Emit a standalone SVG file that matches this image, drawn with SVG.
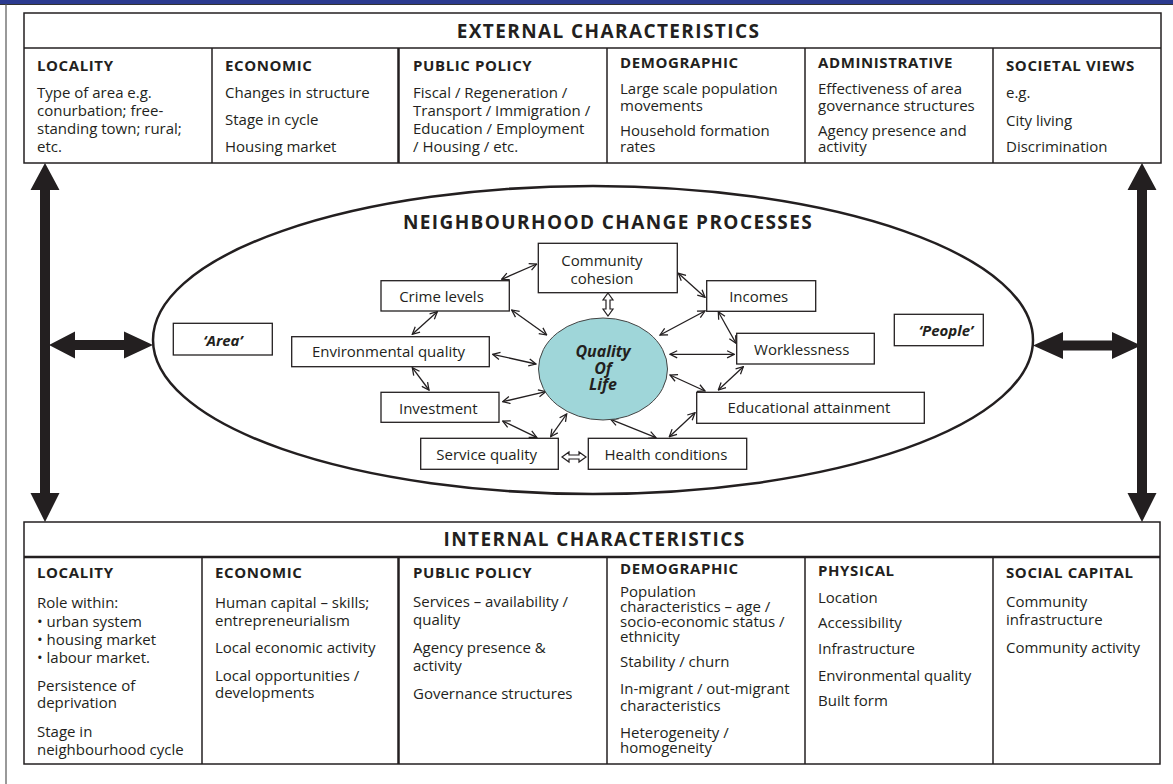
<svg xmlns="http://www.w3.org/2000/svg" width="1173" height="784" viewBox="0 0 1173 784">
<defs>
<style>
text{fill:#231f20;font-family:"Open Sans","Noto Sans","Liberation Sans",sans-serif}
.t{font-size:19px;font-weight:bold;letter-spacing:1.4px}
.h{font-size:15px;font-weight:bold;letter-spacing:0.6px}
.b{font-size:15px}
.nt{font-size:15px;text-anchor:middle}
.bi{font-size:15px;font-weight:bold;font-style:italic;text-anchor:middle}
.q{font-size:16px;font-weight:bold;font-style:italic;text-anchor:middle}
.cell{fill:none;stroke:#231f20;stroke-width:1.5}
.nb{fill:#fff;stroke:#231f20;stroke-width:1.3}
.c{stroke:#231f20;stroke-width:1.3;fill:none;marker-start:url(#ah);marker-end:url(#ah)}
.big{fill:#231f20}
</style>
<marker id="ah" viewBox="0 0 10 10" refX="9" refY="5" markerWidth="9" markerHeight="9" markerUnits="userSpaceOnUse" orient="auto-start-reverse">
<path d="M1,1 L9,5 L1,9" fill="none" stroke="#231f20" stroke-width="1.4"/>
</marker>
</defs>
<rect x="0" y="0" width="1173" height="784" fill="#fff"/>
<rect x="0" y="0" width="1173" height="4.5" fill="#2b3a8f"/>
<line x1="0" y1="4.5" x2="1173" y2="4.5" stroke="#333" stroke-width="1"/>
<line x1="6" y1="4" x2="6" y2="784" stroke="#555" stroke-width="1.2"/>

<g id="external">
<rect class="cell" x="24" y="13" width="1137" height="150"/>
<line class="cell" x1="24" y1="48" x2="1161" y2="48"/>
<line class="cell" x1="212" y1="48" x2="212" y2="163"/>
<line class="cell" x1="398.5" y1="48" x2="398.5" y2="163" style="stroke-width:2.5"/>
<line class="cell" x1="607" y1="48" x2="607" y2="163"/>
<line class="cell" x1="805" y1="48" x2="805" y2="163"/>
<line class="cell" x1="993" y1="48" x2="993" y2="163"/>
<text class="t" x="608.5" y="38" text-anchor="middle">EXTERNAL CHARACTERISTICS</text>
<g id="ext-locality"><text class="h" x="37" y="71">LOCALITY</text>
<text class="b" x="37"><tspan y="98">Type of area e.g.</tspan><tspan x="37" y="116">conurbation; free-</tspan><tspan x="37" y="134">standing town; rural;</tspan><tspan x="37" y="152">etc.</tspan></text></g>
<g id="ext-economic"><text class="h" x="225" y="71">ECONOMIC</text>
<text class="b" x="225"><tspan y="98">Changes in structure</tspan><tspan x="225" y="125">Stage in cycle</tspan><tspan x="225" y="152">Housing market</tspan></text></g>
<g id="ext-policy"><text class="h" x="413" y="71">PUBLIC POLICY</text>
<text class="b" x="413"><tspan y="98">Fiscal / Regeneration /</tspan><tspan x="413" y="116">Transport / Immigration /</tspan><tspan x="413" y="134">Education / Employment</tspan><tspan x="413" y="152">/ Housing / etc.</tspan></text></g>
<g id="ext-demographic"><text class="h" x="620" y="68">DEMOGRAPHIC</text>
<text class="b" x="620"><tspan y="94">Large scale population</tspan><tspan x="620" y="111">movements</tspan><tspan x="620" y="136">Household formation</tspan><tspan x="620" y="152">rates</tspan></text></g>
<g id="ext-administrative"><text class="h" x="818" y="68">ADMINISTRATIVE</text>
<text class="b" x="818"><tspan y="94">Effectiveness of area</tspan><tspan x="818" y="111">governance structures</tspan><tspan x="818" y="136">Agency presence and</tspan><tspan x="818" y="152">activity</tspan></text></g>
<g id="ext-societal"><text class="h" x="1006" y="71">SOCIETAL VIEWS</text>
<text class="b" x="1006"><tspan y="98">e.g.</tspan><tspan x="1006" y="126">City living</tspan><tspan x="1006" y="152">Discrimination</tspan></text></g>
</g>

<g id="internal">
<rect class="cell" x="24" y="522" width="1136" height="242"/>
<line class="cell" x1="24" y1="557" x2="1160" y2="557" style="stroke-width:2.5"/>
<line class="cell" x1="202" y1="557" x2="202" y2="764"/>
<line class="cell" x1="398.5" y1="557" x2="398.5" y2="764" style="stroke-width:2.5"/>
<line class="cell" x1="607" y1="557" x2="607" y2="764"/>
<line class="cell" x1="805" y1="557" x2="805" y2="764"/>
<line class="cell" x1="993" y1="557" x2="993" y2="764"/>
<text class="t" x="594.5" y="546" text-anchor="middle">INTERNAL CHARACTERISTICS</text>
<g id="int-locality"><text class="h" x="37" y="578">LOCALITY</text>
<text class="b" x="37"><tspan y="608">Role within:</tspan><tspan x="37" y="627">• urban system</tspan><tspan x="37" y="645">• housing market</tspan><tspan x="37" y="663">• labour market.</tspan><tspan x="37" y="691">Persistence of</tspan><tspan x="37" y="708">deprivation</tspan><tspan x="37" y="737">Stage in</tspan><tspan x="37" y="755">neighbourhood cycle</tspan></text></g>
<g id="int-economic"><text class="h" x="215" y="578">ECONOMIC</text>
<text class="b" x="215"><tspan y="608">Human capital – skills;</tspan><tspan x="215" y="626">entrepreneurialism</tspan><tspan x="215" y="653">Local economic activity</tspan><tspan x="215" y="681">Local opportunities /</tspan><tspan x="215" y="698">developments</tspan></text></g>
<g id="int-policy"><text class="h" x="413" y="578">PUBLIC POLICY</text>
<text class="b" x="413"><tspan y="607">Services – availability /</tspan><tspan x="413" y="625">quality</tspan><tspan x="413" y="653">Agency presence &amp;</tspan><tspan x="413" y="671">activity</tspan><tspan x="413" y="699">Governance structures</tspan></text></g>
<g id="int-demographic"><text class="h" x="620" y="574">DEMOGRAPHIC</text>
<text class="b" x="620"><tspan y="597">Population</tspan><tspan x="620" y="612">characteristics – age /</tspan><tspan x="620" y="627">socio-economic status /</tspan><tspan x="620" y="642">ethnicity</tspan><tspan x="620" y="667">Stability / churn</tspan><tspan x="620" y="694">In-migrant / out-migrant</tspan><tspan x="620" y="711">characteristics</tspan><tspan x="620" y="738">Heterogeneity /</tspan><tspan x="620" y="753">homogeneity</tspan></text></g>
<g id="int-physical"><text class="h" x="818" y="576">PHYSICAL</text>
<text class="b" x="818"><tspan y="603">Location</tspan><tspan x="818" y="628">Accessibility</tspan><tspan x="818" y="654">Infrastructure</tspan><tspan x="818" y="681">Environmental quality</tspan><tspan x="818" y="706">Built form</tspan></text></g>
<g id="int-social"><text class="h" x="1006" y="578">SOCIAL CAPITAL</text>
<text class="b" x="1006"><tspan y="607">Community</tspan><tspan x="1006" y="625">infrastructure</tspan><tspan x="1006" y="653">Community activity</tspan></text></g>
</g>

<g id="processes">
<ellipse cx="593" cy="340" rx="440" ry="154" fill="none" stroke="#231f20" stroke-width="2.5"/>
<text class="t" x="608" y="229" text-anchor="middle">NEIGHBOURHOOD CHANGE PROCESSES</text>
</g>

<g id="connectors">
<polygon class="big" points="45,163 59.5,190 50,190 50,493 59.5,493 45,522 30.5,493 40,493 40,190 30.5,190"/>
<polygon class="big" points="1142,163 1156.5,190 1147,190 1147,493 1156.5,493 1142,522 1127.5,493 1137,493 1137,190 1127.5,190"/>
<polygon class="big" points="49,345 75,331.5 75,340 124,340 124,331.5 153,345 124,358.5 124,350 75,350 75,358.5"/>
<polygon class="big" points="1033,345.5 1063,332 1063,340.5 1112,340.5 1112,332 1141,345.5 1112,359 1112,350.5 1063,350.5 1063,359"/>
<line class="c" x1="501.7" y1="279.3" x2="536.7" y2="264"/>
<line class="c" x1="678.3" y1="273.3" x2="705" y2="297.3"/>
<line class="c" x1="511.7" y1="310" x2="546.7" y2="335"/>
<line class="c" x1="437.3" y1="311.7" x2="412.3" y2="334.3"/>
<line class="c" x1="492.7" y1="354.3" x2="536" y2="364"/>
<line class="c" x1="412.3" y1="367.7" x2="429" y2="390"/>
<line class="c" x1="502.7" y1="401.7" x2="545.7" y2="391.7"/>
<line class="c" x1="502.7" y1="421" x2="536.7" y2="437.3"/>
<line class="c" x1="550.7" y1="436.7" x2="566.7" y2="414"/>
<line class="c" x1="656" y1="437.7" x2="610.7" y2="419.3"/>
<line class="c" x1="669.3" y1="436.7" x2="695" y2="412.7"/>
<line class="c" x1="670" y1="375" x2="705" y2="391"/>
<line class="c" x1="670" y1="354.3" x2="734.3" y2="354.3"/>
<line class="c" x1="743.3" y1="366.7" x2="718.3" y2="390"/>
<line class="c" x1="660" y1="335" x2="705" y2="311"/>
<line class="c" x1="718.3" y1="311.7" x2="736" y2="343.3"/>
<polygon points="608,293 613,300 610,300 610,309 613,309 608,316 603,309 606,309 606,300 603,300" fill="#fff" stroke="#231f20" stroke-width="1.2"/>
<polygon points="562,457 569,452 569,455 579,455 579,452 586,457 579,462 579,459 569,459 569,462" fill="#fff" stroke="#231f20" stroke-width="1.2"/>
</g>

<g id="qol"><ellipse cx="603" cy="369" rx="64.5" ry="51" fill="#9fd6d9" stroke="#444" stroke-width="1"/>
<text class="q" x="603"><tspan y="357">Quality</tspan><tspan x="603" y="373.5">Of</tspan><tspan x="603" y="390">Life</tspan></text></g>
<g id="n-community"><rect class="nb" x="538.3" y="243.3" width="139" height="49.4"/><text class="nt" x="602"><tspan y="266">Community</tspan><tspan x="602" y="283.5">cohesion</tspan></text></g>
<g id="n-crime"><rect class="nb" x="381" y="280.7" width="128.3" height="30.3"/><text class="nt" x="441.5" y="301.5">Crime levels</text></g>
<g id="n-environment"><rect class="nb" x="291.7" y="336.7" width="197.6" height="30"/><text class="nt" x="388.5" y="357">Environmental quality</text></g>
<g id="n-investment"><rect class="nb" x="381" y="392.3" width="118" height="30"/><text class="nt" x="438.3" y="413.5">Investment</text></g>
<g id="n-service"><rect class="nb" x="420.7" y="438.3" width="137.6" height="31"/><text class="nt" x="486.7" y="460">Service quality</text></g>
<g id="n-health"><rect class="nb" x="588.3" y="438.3" width="158.4" height="31"/><text class="nt" x="666" y="460">Health conditions</text></g>
<g id="n-incomes"><rect class="nb" x="706.7" y="280.7" width="109" height="30.6"/><text class="nt" x="758.7" y="301.5">Incomes</text></g>
<g id="n-workless"><rect class="nb" x="736.7" y="333.3" width="137.6" height="30.7"/><text class="nt" x="801.7" y="355">Worklessness</text></g>
<g id="n-education"><rect class="nb" x="696.7" y="392.3" width="227.6" height="31"/><text class="nt" x="809" y="413.3">Educational attainment</text></g>
<g id="n-area"><rect class="nb" x="173.3" y="323.3" width="99" height="31.7"/><text class="bi" x="223" y="345.5">‘Area’</text></g>
<g id="n-people"><rect class="nb" x="894.3" y="314.3" width="89" height="31.4"/><text class="bi" x="946" y="336">‘People’</text></g>
</svg>
